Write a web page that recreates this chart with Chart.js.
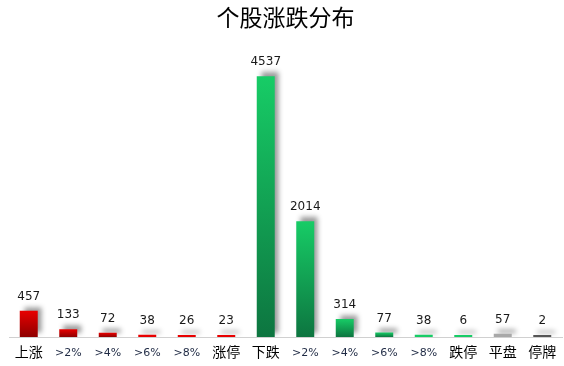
<!DOCTYPE html>
<html>
<head>
<meta charset="utf-8">
<script src="https://cdn.jsdelivr.net/npm/chart.js@4"></script>
<style>
  html, body { margin: 0; padding: 0; background: #fff; }
  #wrap { width: 564px; height: 366px; position: relative; }
</style>
</head>
<body>
<div id="wrap"><canvas id="dist-chart"></canvas></div>
<script>
var categories = ['上涨', '>2%', '>4%', '>6%', '>8%', '涨停', '下跌', '>2%', '>4%', '>6%', '>8%', '跌停', '平盘', '停牌'];
var counts = [457, 133, 72, 38, 26, 23, 4537, 2014, 314, 77, 38, 6, 57, 2];
// colour group of each bar: r = up, g = down, p = flat, s = suspended
var groups = ['r', 'r', 'r', 'r', 'r', 'r', 'g', 'g', 'g', 'g', 'g', 'g', 'p', 's'];

var gradStops = {
    r: ['#e80000', '#8e0000'],
    g: ['#17cc66', '#0d7540'],
    p: ['#a8a8a8', '#a8a8a8'],
    s: ['#555555', '#555555']
};

function barFill(context) {
    var chart = context.chart;
    var area = chart.chartArea;
    if (!area) return '#ccc';
    var i = context.dataIndex;
    var stops = gradStops[groups[i]];
    var y = chart.scales.y;
    var top = y.getPixelForValue(counts[i]);
    var base = y.getPixelForValue(0);
    if (base - top < 3) return stops[0];
    var g = chart.ctx.createLinearGradient(0, top, 0, base);
    g.addColorStop(0, stops[0]);
    g.addColorStop(1, stops[1]);
    return g;
}

const shadowPlugin = {
    id: 'barShadow',
    beforeDatasetsDraw(chart) {
        const c = chart.ctx;
        c.save();
        c.shadowColor = 'rgba(0,0,0,0.4)';
        c.shadowBlur = 5;
        c.shadowOffsetX = 4;
        c.shadowOffsetY = -4;
    },
    afterDatasetsDraw(chart) {
        chart.ctx.restore();
    }
};

const valuePlugin = {
    id: 'valueLabels',
    afterDatasetsDraw(chart) {
        const c = chart.ctx;
        const meta = chart.getDatasetMeta(0);
        c.save();
        c.font = '12px "DejaVu Sans", sans-serif';
        c.fillStyle = '#1a1a1a';
        c.textAlign = 'center';
        c.textBaseline = 'bottom';
        meta.data.forEach(function (bar, i) {
            c.fillText(String(counts[i]), bar.x, bar.y - 8);
        });
        c.restore();
    }
};

// category labels drawn centred on one line so mixed font sizes line up
const tickPlugin = {
    id: 'catLabels',
    afterDraw(chart) {
        const c = chart.ctx;
        const x = chart.scales.x;
        const yMid = chart.chartArea.bottom + 15;
        c.save();
        c.textAlign = 'center';
        c.textBaseline = 'middle';
        categories.forEach(function (lab, i) {
            var isPct = /%/.test(lab);
            c.font = isPct ? '11px "DejaVu Sans", sans-serif' : '14px "Noto Sans CJK SC", sans-serif';
            c.fillStyle = isPct ? '#1f2a44' : '#000';
            c.fillText(lab, x.getPixelForTick(i), yMid + (isPct ? 1 : 0));
        });
        c.restore();
    }
};

const ctx = document.getElementById('dist-chart');
const distChart = new Chart(ctx, {
    type: 'bar',
    data: {
        labels: categories,
        datasets: [{
            data: counts,
            backgroundColor: barFill,
            borderWidth: 0,
            minBarLength: 2,
            categoryPercentage: 1,
            barPercentage: 0.455
        }]
    },
    options: {
        responsive: true,
        maintainAspectRatio: false,
        animation: false,
        layout: { padding: { left: 9, right: 2, top: 0, bottom: 29 } },
        plugins: {
            legend: { display: false },
            tooltip: { enabled: false },
            title: {
                display: true,
                text: '个股涨跌分布',
                color: '#000',
                font: { family: '"Noto Sans CJK SC", sans-serif', size: 23, weight: 'normal' },
                padding: { top: 3, bottom: 19 }
            }
        },
        scales: {
            x: {
                grid: { display: false, drawTicks: false },
                border: { color: '#d0d0d0', width: 1 },
                ticks: { display: false }
            },
            y: {
                display: false,
                min: 0,
                max: 5000
            }
        }
    },
    plugins: [shadowPlugin, valuePlugin, tickPlugin]
});
</script>
</body>
</html>
